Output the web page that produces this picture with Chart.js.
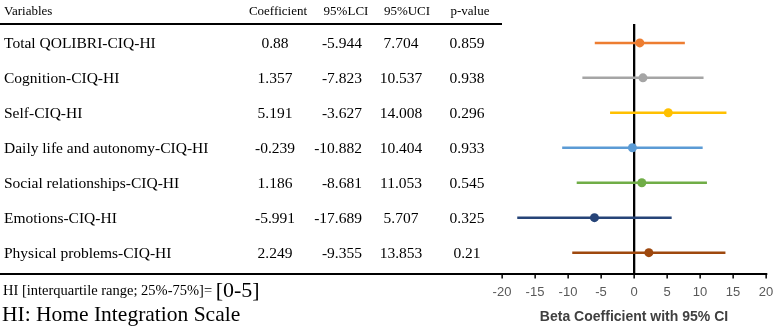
<!DOCTYPE html>
<html>
<head>
<meta charset="utf-8">
<script src="https://cdn.jsdelivr.net/npm/chart.js@4.4.1/dist/chart.umd.min.js"></script>
<style>
body { margin: 0; background: #fff; }
#wrap { position: relative; width: 776px; height: 333px; font-family: "Liberation Serif", "Times New Roman", serif; color: #000; overflow: hidden; }
#wrap canvas { position: absolute; left: 0; top: 0; }
.t { position: absolute; white-space: nowrap; line-height: 1; }
.rule { position: absolute; background: #000; height: 2px; }
</style>
</head>
<body>
<div id="wrap"><canvas id="forest" width="776" height="333"></canvas></div>
<script>
const variables = [
    "Total QOLIBRI-CIQ-HI",
    "Cognition-CIQ-HI",
    "Self-CIQ-HI",
    "Daily life and autonomy-CIQ-HI",
    "Social relationships-CIQ-HI",
    "Emotions-CIQ-HI",
    "Physical problems-CIQ-HI"
];
const coef = ["0.88", "1.357", "5.191", "-0.239", "1.186", "-5.991", "2.249"];
const lci = ["-5.944", "-7.823", "-3.627", "-10.882", "-8.681", "-17.689", "-9.355"];
const uci = ["7.704", "10.537", "14.008", "10.404", "11.053", "5.707", "13.853"];
const pval = ["0.859", "0.938", "0.296", "0.933", "0.545", "0.325", "0.21"];
const headers = ["Variables", "Coefficient", "95%LCI", "95%UCI", "p-value"];
const colors = ["#ED7D31", "#A5A5A5", "#FFC000", "#5B9BD5", "#70AD47", "#264478", "#9E480E"];

const wrap = document.getElementById("wrap");

function addText(txt, x, y, size, align) {
    const d = document.createElement("div");
    d.className = "t";
    d.textContent = txt;
    d.style.fontSize = size + "px";
    d.style.top = y + "px";
    if (align === "center") {
        d.style.left = x + "px";
        d.style.transform = "translate(-50%, -50%)";
    } else if (align === "right") {
        d.style.right = (776 - x) + "px";
        d.style.transform = "translateY(-50%)";
    } else {
        d.style.left = x + "px";
        d.style.transform = "translateY(-50%)";
    }
    wrap.appendChild(d);
    return d;
}

function addRule(x1, x2, y) {
    const r = document.createElement("div");
    r.className = "rule";
    r.style.left = x1 + "px";
    r.style.width = (x2 - x1) + "px";
    r.style.top = y + "px";
    wrap.appendChild(r);
}

// error bars, one line per row, then the coefficient dots
const datasets = variables.map((v, i) => ({
    type: "line",
    data: [{ x: +lci[i], y: i }, { x: +uci[i], y: i }],
    borderColor: colors[i],
    borderWidth: 2.5,
    pointRadius: 0,
    fill: false
}));
datasets.push({
    type: "scatter",
    data: coef.map((c, i) => ({ x: +c, y: i })),
    pointRadius: 4.5,
    pointBackgroundColor: colors,
    pointBorderColor: colors,
    pointBorderWidth: 0
});

let forest = new Chart("forest", {
    type: "scatter",
    data: { datasets: datasets },
    options: {
        responsive: false,
        animation: false,
        layout: { padding: { left: 502, right: 10, top: 24, bottom: 3 } },
        plugins: { legend: { display: false }, tooltip: { enabled: false } },
        scales: {
            y: {
                type: "linear",
                reverse: true,
                min: -0.54,
                max: 6.6,
                display: false
            },
            x: {
                type: "linear",
                min: -20,
                max: 20,
                afterFit: s => { s.paddingLeft = 0; s.paddingRight = 0; },
                ticks: {
                    stepSize: 5,
                    color: "#595959",
                    font: { family: "Liberation Sans", size: 13 },
                    padding: 6
                },
                grid: {
                    color: ctx => (ctx.tick && ctx.tick.value === 0) ? "#000" : "rgba(0,0,0,0)",
                    lineWidth: 2.3,
                    drawTicks: true,
                    tickColor: "#000",
                    tickLength: 5,
                    tickWidth: 1.5
                },
                border: { color: "#000", width: 2 },
                title: {
                    display: true,
                    text: "Beta Coefficient with 95% CI",
                    color: "#404040",
                    font: { family: "Liberation Sans", size: 14, weight: "bold" },
                    padding: { top: 3, bottom: 4 }
                }
            }
        }
    }
});

// table to the left of the plot, rows follow the y scale
const ys = forest.scales.y;
addText(headers[0], 4, 10, 13);
addText(headers[1], 278, 10, 13, "center");
addText(headers[2], 346, 10, 13, "center");
addText(headers[3], 407, 10, 13, "center");
addText(headers[4], 470, 10, 13, "center");
addRule(0, 502, 23);

variables.forEach((v, i) => {
    const y = ys.getPixelForValue(i);
    addText(v, 4, y, 15.5);
    addText(coef[i], 275, y, 15.5, "center");
    addText(lci[i], 362, y, 15.5, "right");
    addText(uci[i], 401, y, 15.5, "center");
    addText(pval[i], 467, y, 15.5, "center");
});
addRule(0, 503, forest.chartArea.bottom - 1);

const note = addText("HI [interquartile range; 25%-75%]= ", 3, 290, 14.5);
const big = document.createElement("span");
big.textContent = "[0-5]";
big.style.fontSize = "22px";
big.style.verticalAlign = "-2px";
note.appendChild(big);
addText("HI: Home Integration Scale", 2, 315, 21.5);
</script>
</body>
</html>
